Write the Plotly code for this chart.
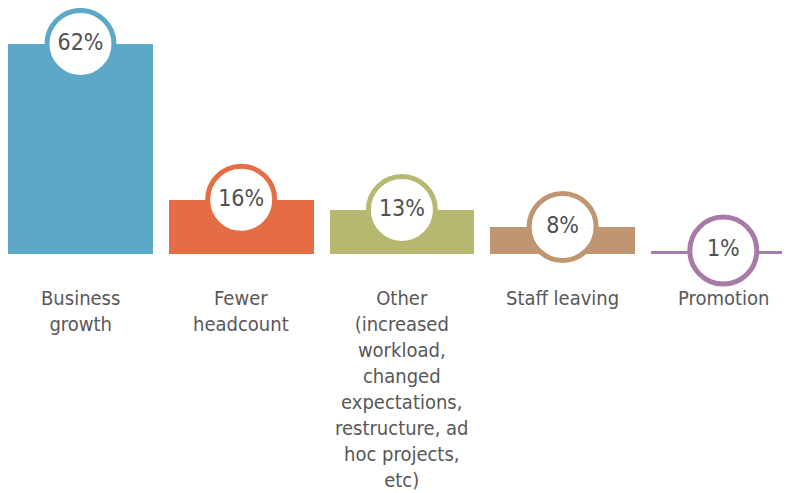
import plotly.graph_objects as go

categories = ["Business<br>growth", "Fewer<br>headcount",
              "Other<br>(increased<br>workload,<br>changed<br>expectations,<br>restructure, ad<br>hoc projects,<br>etc)",
              "Staff leaving", "Promotion"]
values = [62, 16, 13, 8, 1]
pct_labels = ["62%", "16%", "13%", "8%", "1%"]
colors = ["#5ca8c6", "#e56d45", "#b7b870", "#c09572", "#a87aa8"]

FONT = "DejaVu Sans Condensed, Liberation Sans Narrow, Roboto, sans-serif"
xs = list(range(len(values)))

fig = go.Figure()
fig.add_trace(go.Bar(x=xs, y=values, width=0.9, marker=dict(color=colors, line=dict(width=0)),
                     hoverinfo="skip"))
fig.add_trace(go.Scatter(x=xs, y=values, mode="markers+text", text=pct_labels,
                         textposition="middle center",
                         textfont=dict(family=FONT, size=23, color="#505050"),
                         marker=dict(size=67, color="white", line=dict(color=colors, width=5)),
                         cliponaxis=False, hoverinfo="skip"))

for x, lab in zip(xs, categories):
    fig.add_annotation(x=x, y=0, xref="x", yref="y", text=lab, showarrow=False,
                       yanchor="top", yshift=-30, align="center",
                       font=dict(family=FONT, size=20, color="#585858"))

fig.update_layout(
    width=782, height=485, showlegend=False, bargap=0,
    margin=dict(l=0, r=0, t=0, b=239),
    paper_bgcolor="white", plot_bgcolor="white",
    xaxis=dict(range=[-0.451, 4.415], visible=False, fixedrange=True),
    yaxis=dict(range=[0, 72.6], visible=False, fixedrange=True),
)
fig.write_html("out.html")
